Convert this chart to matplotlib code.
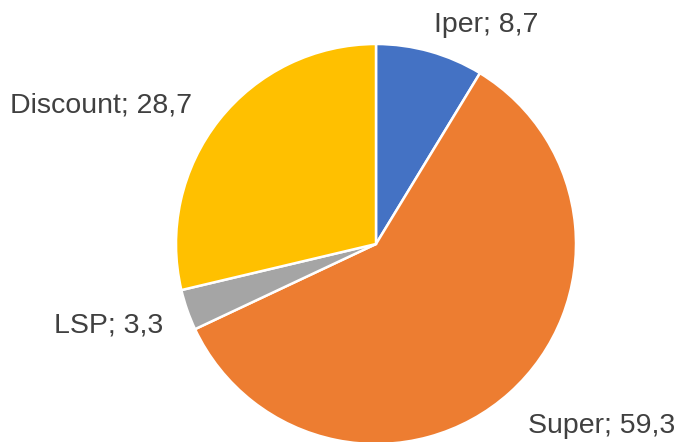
import matplotlib.pyplot as plt

labels = ['Iper', 'Super', 'LSP', 'Discount']
values = [8.7, 59.3, 3.3, 28.7]
colors = ['#4472C4', '#ED7D31', '#A5A5A5', '#FFC000']

# label anchor points in pie units (radius = 1), as placed in the original
label_pos = [(0.55, 1.06), (1.13, -0.945), (-1.335, -0.445), (-1.375, 0.66)]

plt.rcParams['font.family'] = ['Liberation Sans', 'DejaVu Sans']

fig = plt.figure(figsize=(6.8, 4.42), dpi=100)
ax = fig.add_axes([176/680, -2/442, 400/680, 400/442])

ax.pie(values, colors=colors, startangle=90, counterclock=False,
       wedgeprops=dict(edgecolor='white', linewidth=1.8))

for lab, v, (x, y) in zip(labels, values, label_pos):
    txt = f'{lab}; {v:.1f}'.replace('.', ',')
    ax.text(x, y, txt, ha='center', va='baseline', fontsize=20.5,
            color='#404040', clip_on=False)

ax.set_xlim(-1, 1)
ax.set_ylim(-1, 1)
ax.set_aspect('equal')
ax.axis('off')

fig.savefig('out.png', dpi=100)
